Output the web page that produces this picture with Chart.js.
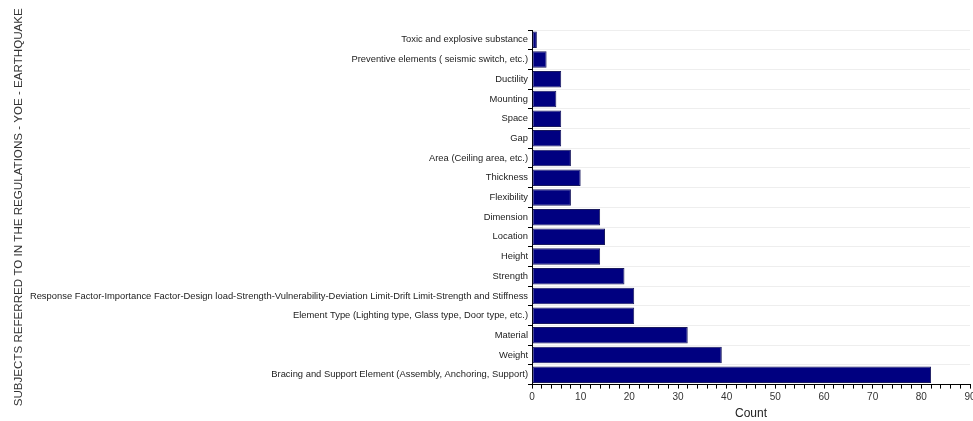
<!DOCTYPE html>
<html>
<head>
<meta charset="utf-8">
<script src="https://cdn.jsdelivr.net/npm/chart.js@4/dist/chart.umd.min.js"></script>
<style>
  html, body { margin: 0; padding: 0; background: #fff; overflow: hidden; }
  #wrap { width: 985px; height: 421px; }
</style>
</head>
<body>
<div id="wrap"><canvas id="subjectsChart"></canvas></div>
<script>
const subjects = [
  "Toxic and explosive substance",
  "Preventive elements ( seismic switch, etc.)",
  "Ductility",
  "Mounting",
  "Space",
  "Gap",
  "Area (Ceiling area, etc.)",
  "Thickness",
  "Flexibility",
  "Dimension",
  "Location",
  "Height",
  "Strength",
  "Response Factor-Importance Factor-Design load-Strength-Vulnerability-Deviation Limit-Drift Limit-Strength and Stiffness",
  "Element Type (Lighting type, Glass type, Door type, etc.)",
  "Material",
  "Weight",
  "Bracing and Support Element (Assembly, Anchoring, Support)",
];
const counts = [1, 3, 6, 5, 6, 6, 8, 10, 8, 14, 15, 14, 19, 21, 21, 32, 39, 82];
const countTicks = [0, 10, 20, 30, 40, 50, 60, 70, 80, 90];

new Chart(document.getElementById("subjectsChart"), {
  type: "bar",
  data: {
    labels: subjects,
    datasets: [
      {
        label: "Count",
        data: counts,
        backgroundColor: "#000080",
        borderColor: "#1a1a5e",
        borderWidth: 1,
        borderSkipped: false,
        barPercentage: 0.84,
        categoryPercentage: 1,
      },
    ],
  },
  options: {
    indexAxis: "y",
    responsive: true,
    maintainAspectRatio: false,
    animation: false,
    layout: {
      padding: { top: 30, right: 15, bottom: 0, left: 12 },
    },
    plugins: {
      legend: { display: false },
      tooltip: { enabled: false },
    },
    scales: {
      x: {
        min: 0,
        max: 90,
        border: { color: "#000", width: 1 },
        grid: {
          drawOnChartArea: false,
          tickLength: 4,
          tickColor: "#000",
        },
        ticks: {
          stepSize: 2,
          autoSkip: false,
          maxRotation: 0,
          padding: 3,
          color: "#333",
          font: { family: "Liberation Sans", size: 10 },
          callback: (value) => (countTicks.includes(value) ? String(value) : ""),
        },
        title: {
          display: true,
          text: "Count",
          color: "#222",
          font: { family: "Liberation Sans", size: 12 },
          padding: { top: 0, bottom: 0 },
        },
      },
      y: {
        afterFit: (scale) => {
          scale.width = 520;
        },
        border: { color: "#000", width: 1 },
        grid: {
          offset: true,
          color: "#eeeeee",
          tickColor: "#000",
          tickLength: 4,
        },
        ticks: {
          autoSkip: false,
          padding: 0,
          color: "#222",
          font: { family: "Liberation Sans", size: 9.4 },
        },
        title: {
          display: true,
          text: "SUBJECTS REFERRED TO IN THE REGULATIONS - YOE - EARTHQUAKE",
          color: "#333",
          font: { family: "Liberation Sans", size: 11.6 },
          padding: { top: 0, bottom: 2 },
        },
      },
    },
  },
});
</script>
</body>
</html>
